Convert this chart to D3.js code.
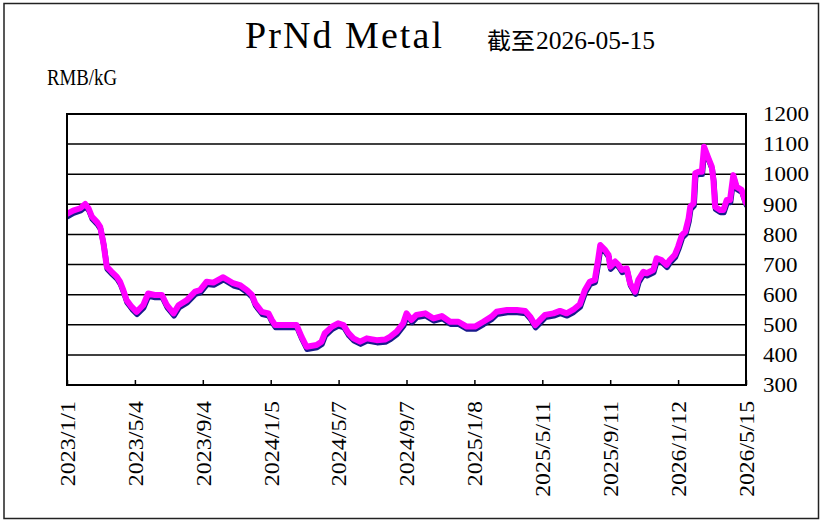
<!DOCTYPE html>
<html>
<head>
<meta charset="utf-8">
<script src="https://cdn.jsdelivr.net/npm/d3@7"></script>
<style>
  html, body { margin: 0; padding: 0; background: #fff; }
  svg { display: block; }
</style>
</head>
<body>
<svg id="chart" width="822" height="522"></svg>
<script>
// ---- data ----
const titleText = "PrNd Metal";
const subtitlePrefix = "截至";
const subtitleDate = "2026-05-15";
const unitText = "RMB/kG";

const dates = [
  "2023-01-01","2023-01-12","2023-01-25","2023-02-03","2023-02-09","2023-02-15","2023-02-24","2023-03-02",
  "2023-03-08","2023-03-14","2023-03-23","2023-04-01","2023-04-07","2023-04-13","2023-04-19","2023-04-28",
  "2023-05-07","2023-05-19","2023-05-28","2023-06-09","2023-06-22","2023-07-01","2023-07-13","2023-07-22",
  "2023-08-06","2023-08-21","2023-08-30","2023-09-11","2023-09-23","2023-10-11","2023-10-29","2023-11-10",
  "2023-11-23","2023-12-02","2023-12-08","2023-12-20","2024-01-01","2024-01-07","2024-01-13","2024-02-21",
  "2024-03-01","2024-03-10","2024-03-28","2024-04-06","2024-04-12","2024-04-25","2024-05-06","2024-05-16",
  "2024-05-25","2024-06-03","2024-06-15","2024-06-27","2024-07-15","2024-07-30","2024-08-08","2024-08-20",
  "2024-09-01","2024-09-07","2024-09-16","2024-09-25","2024-10-11","2024-10-26","2024-11-10","2024-11-25",
  "2024-12-10","2024-12-25","2025-01-09","2025-01-24","2025-02-08","2025-02-17","2025-03-08","2025-03-26",
  "2025-04-10","2025-04-19","2025-04-28","2025-05-07","2025-05-16","2025-05-31","2025-06-12","2025-06-24",
  "2025-07-06","2025-07-18","2025-07-27","2025-08-05","2025-08-14","2025-08-20","2025-08-24","2025-09-02",
  "2025-09-08","2025-09-11","2025-09-20","2025-09-26","2025-10-02","2025-10-11","2025-10-17","2025-10-26",
  "2025-11-01","2025-11-10","2025-11-16","2025-11-28","2025-12-04","2025-12-13","2025-12-22","2025-12-28",
  "2026-01-06","2026-01-12","2026-01-19","2026-01-25","2026-01-31","2026-02-03","2026-02-09","2026-02-12",
  "2026-02-18","2026-02-24","2026-02-28","2026-03-08","2026-03-14","2026-03-17","2026-03-20","2026-03-29",
  "2026-04-04","2026-04-10","2026-04-16","2026-04-22","2026-04-28","2026-05-07","2026-05-13","2026-05-15"
];
const prices = [
  868,879,887,901,887,859,842,826,
  771,693,676,660,643,615,582,560,
  543,565,604,599,599,565,538,565,
  582,610,615,643,640,658,638,632,
  615,599,571,543,538,516,499,499,
  460,427,433,444,472,494,505,499,
  472,455,444,455,449,451,460,477,
  505,538,516,533,538,521,529,510,
  510,494,494,510,527,543,549,549,
  546,527,499,516,533,538,546,538,
  550,568,615,643,649,715,765,748,
  732,693,710,699,682,687,638,610,
  649,676,671,682,721,715,699,715,
  732,759,798,809,853,892,903,1003,
  1008,1008,1091,1053,1025,981,892,881,
  881,914,914,997,958,948,914,905
];

const xTickLabels = ["2023/1/1","2023/5/4","2023/9/4","2024/1/5","2024/5/7","2024/9/7",
                     "2025/1/8","2025/5/11","2025/9/11","2026/1/12","2026/5/15"];
const yTickValues = [300,400,500,600,700,800,900,1000,1100,1200];

// ---- layout ----
const plot = { left: 67, right: 746, top: 114, bottom: 385 };
const serif = "'Liberation Serif', 'DejaVu Serif', serif";

const svg = d3.select("#chart");
const parseISO = d3.utcParse("%Y-%m-%d");
const parseSlash = d3.utcParse("%Y/%m/%d");
const tickDates = xTickLabels.map(s => parseSlash(s));
const data = dates.map((d, i) => ({ date: parseISO(d), value: prices[i] }));

const x = d3.scaleUtc()
  .domain([tickDates[0], tickDates[tickDates.length - 1]])
  .range([plot.left, plot.right]);
const y = d3.scaleLinear()
  .domain([300, 1200])
  .range([plot.bottom, plot.top]);

// outer border
svg.append("rect")
  .attr("x", 4).attr("y", 3.5)
  .attr("width", 814.5).attr("height", 515)
  .attr("fill", "#fff")
  .attr("stroke", "#222").attr("stroke-width", 1.5);

// gridlines
svg.append("g")
  .selectAll("line")
  .data(yTickValues.filter(v => v > 300 && v < 1200))
  .join("line")
  .attr("x1", plot.left).attr("x2", plot.right)
  .attr("y1", d => y(d)).attr("y2", d => y(d))
  .attr("stroke", "#000").attr("stroke-width", 1.5);

// bottom axis ticks (inward) with rotated labels
const xAxis = d3.axisBottom(x)
  .tickValues(tickDates)
  .tickSizeInner(-5)
  .tickSizeOuter(0)
  .tickFormat((d, i) => xTickLabels[i]);

const gx = svg.append("g")
  .attr("transform", `translate(0,${plot.bottom})`)
  .call(xAxis);
gx.select(".domain").remove();
gx.selectAll(".tick line").attr("stroke", "#000").attr("stroke-width", 1.5);
gx.selectAll(".tick text")
  .attr("transform", "rotate(-90)")
  .attr("x", -16)
  .attr("y", 0)
  .attr("dy", "0.35em")
  .attr("text-anchor", "end")
  .attr("fill", "#000")
  .style("font-family", serif)
  .style("font-size", "21px")
  .attr("textLength", (d, i) => xTickLabels[i].length * 10.65)
  .attr("lengthAdjust", "spacingAndGlyphs");

// right axis labels
const yAxis = d3.axisRight(y)
  .tickValues(yTickValues)
  .tickSize(0)
  .tickFormat(d3.format("d"));
const gy = svg.append("g")
  .attr("transform", `translate(${plot.right},0)`)
  .call(yAxis);
gy.select(".domain").remove();
gy.selectAll(".tick text")
  .attr("x", 17)
  .attr("fill", "#000")
  .attr("text-anchor", "start")
  .style("font-family", serif)
  .style("font-size", "21px")
  .attr("textLength", d => String(d).length * 11.5)
  .attr("lengthAdjust", "spacingAndGlyphs");

// line (navy shadow + magenta)
const line = d3.line()
  .x(d => x(d.date))
  .y(d => y(d.value))
  .curve(d3.curveLinear);

svg.append("clipPath").attr("id", "plotclip")
  .append("rect")
  .attr("x", plot.left).attr("y", plot.top - 10)
  .attr("width", plot.right - plot.left).attr("height", plot.bottom - plot.top + 10);

const lines = svg.append("g").attr("clip-path", "url(#plotclip)");
lines.append("path")
  .datum(data)
  .attr("d", line)
  .attr("transform", "translate(0.5,2.5)")
  .attr("fill", "none")
  .attr("stroke", "#1a1a8c")
  .attr("stroke-width", 5.5)
  .attr("stroke-linejoin", "round")
  .attr("stroke-linecap", "round");
lines.append("path")
  .datum(data)
  .attr("d", line)
  .attr("fill", "none")
  .attr("stroke", "#ff00ff")
  .attr("stroke-width", 6)
  .attr("stroke-linejoin", "round")
  .attr("stroke-linecap", "round");

// plot frame
svg.append("rect")
  .attr("x", plot.left).attr("y", plot.top)
  .attr("width", plot.right - plot.left).attr("height", plot.bottom - plot.top)
  .attr("fill", "none")
  .attr("stroke", "#000").attr("stroke-width", 2);

// title
svg.append("text")
  .attr("x", 245).attr("y", 48)
  .attr("textLength", 197)
  .attr("lengthAdjust", "spacing")
  .style("font-family", serif)
  .style("font-size", "38px")
  .attr("fill", "#000")
  .text(titleText);

svg.append("text")
  .attr("x", 487).attr("y", 49)
  .attr("textLength", 48)
  .attr("lengthAdjust", "spacingAndGlyphs")
  .style("font-family", "'Noto Sans CJK SC', sans-serif")
  .style("font-size", "23px")
  .attr("fill", "#000")
  .text(subtitlePrefix);

svg.append("text")
  .attr("x", 536).attr("y", 49)
  .attr("textLength", 119)
  .attr("lengthAdjust", "spacingAndGlyphs")
  .style("font-family", serif)
  .style("font-size", "25px")
  .attr("fill", "#000")
  .text(subtitleDate);

svg.append("text")
  .attr("x", 47).attr("y", 85)
  .attr("textLength", 70)
  .attr("lengthAdjust", "spacingAndGlyphs")
  .style("font-family", serif)
  .style("font-size", "23px")
  .attr("fill", "#000")
  .text(unitText);
</script>
</body>
</html>
